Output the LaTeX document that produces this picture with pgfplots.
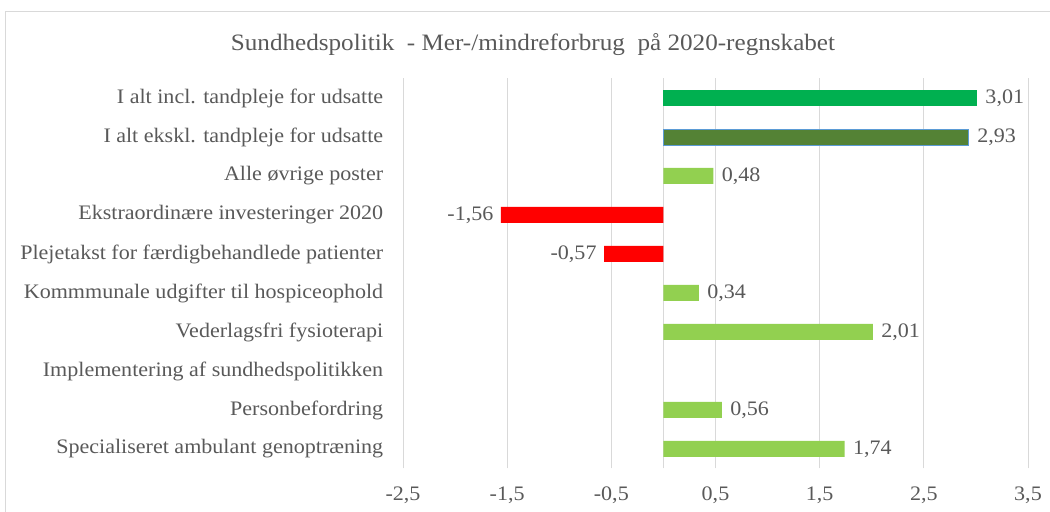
\documentclass[border=0pt]{standalone}
\usepackage{fontspec}
\setmainfont[FakeStretch=1.07]{Liberation Serif}
\usepackage{pgfplots}
\pgfplotsset{compat=1.18}
\definecolor{txt}{HTML}{595959}
\definecolor{gridc}{HTML}{D9D9D9}
\definecolor{gA}{HTML}{00B050}
\definecolor{gB}{HTML}{548235}
\definecolor{gBb}{HTML}{5B9BD5}
\definecolor{gC}{HTML}{92D050}
\definecolor{rd}{HTML}{FF0000}
\newcommand{\fs}{\fontsize{20.6bp}{24bp}\selectfont}
\begin{document}
\begin{tikzpicture}
\useasboundingbox (0,0) rectangle (1050bp,512bp);
\draw[gridc, line width=1bp] (5bp,-10bp) rectangle (1070bp,500bp);
\node[text=txt, font=\fontsize{23.5bp}{28bp}\selectfont] at (533bp,467bp) {Sundhedspolitik\ \ - Mer-/mindreforbrug\ \ på 2020-regnskabet};
\begin{axis}[
  at={(403bp,43.5bp)}, anchor=south west,
  scale only axis, width=625bp, height=390bp,
  xmin=-2.5, xmax=3.5, ymin=-0.5, ymax=9.5,
  xbar, bar width=16bp,
  axis line style={draw=none}, tick style={draw=none},
  xtick={-2.5,-1.5,-0.5,0.5,1.5,2.5,3.5},
  xticklabels={{-2,5},{-1,5},{-0,5},{0,5},{1,5},{2,5},{3,5}},
  xmajorgrids, major grid style={gridc, line width=1bp},
  extra x ticks={0}, extra x tick labels={},
  extra x tick style={grid=major, major grid style={gridc, line width=1bp}},
  xticklabel style={font=\fs, text=txt, yshift=-15bp},
  ytick={0,...,9},
  yticklabels={Specialiseret ambulant genoptræning, Personbefordring, Implementering af sundhedspolitikken, Vederlagsfri fysioterapi, Kommmunale udgifter til hospiceophold, Plejetakst for færdigbehandlede patienter, Ekstraordinære investeringer 2020, Alle øvrige poster, I alt ekskl. tandpleje for udsatte, I alt incl. tandpleje for udsatte},
  yticklabel style={font=\fs, text=txt, xshift=-12bp},
  point meta=x,
  /pgf/number format/assume math mode=true,
  nodes near coords={\pgfmathprintnumber[fixed,fixed zerofill,precision=2,use comma]{\pgfplotspointmeta}},
  every node near coord/.append style={font=\fs, text=txt, xshift=5bp},
]
\addplot[bar shift=0pt, fill=gA, draw=none] coordinates {(3.01,9)};
\addplot[bar shift=0pt, fill=gB, draw=gBb, line width=0.8bp] coordinates {(2.93,8)};
\addplot[bar shift=0pt, fill=gC, draw=none] coordinates {(0.48,7) (0.34,4) (2.01,3) (0.56,1) (1.74,0)};
\addplot[bar shift=0pt, fill=rd, draw=none, every node near coord/.append style={anchor=east, xshift=-9bp}] coordinates {(-1.56,6) (-0.57,5)};
\end{axis}
\end{tikzpicture}
\end{document}
